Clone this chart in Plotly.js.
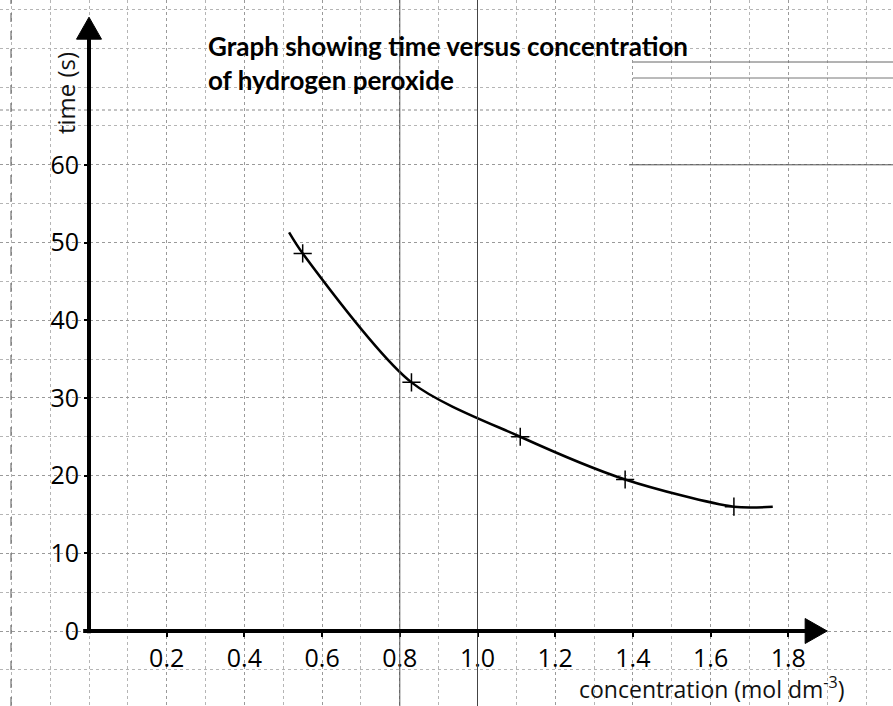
<!DOCTYPE html>
<html>
<head>
<meta charset="utf-8">
<script src="https://cdn.plot.ly/plotly-3.0.1.min.js"></script>
<style>html,body{margin:0;padding:0;background:#fff;}#chart{width:893px;height:706px;}</style>
</head>
<body>
<div id="chart"></div>
<script>
// Measured data points (crosses)
const concentration = [0.55, 0.83, 1.11, 1.38, 1.66];
const timeSeconds = [48.6, 32.0, 25.0, 19.5, 16.0];
// Hand-drawn best-fit curve: start, through points, end
const curveX = [0.515, 0.55, 0.83, 1.11, 1.38, 1.66, 1.76];
const curveY = [51.3, 48.6, 32.0, 25.0, 19.5, 16.0, 16.0];
// Tick labels
const xTickVals = [0.2, 0.4, 0.6, 0.8, 1.0, 1.2, 1.4, 1.6, 1.8];
const xTickText = ['0.2', '0.4', '0.6', '0.8', '1.0', '1.2', '1.4', '1.6', '1.8'];
const yTickVals = [0, 10, 20, 30, 40, 50, 60];
const yTickText = ['0', '10', '20', '30', '40', '50', '60'];

const W = 893, H = 706;
const ox = 89, oy = 631;       // origin in pixels
const pxX = 388.5, pxY = 7.77; // pixels per unit
const xr = [-ox / pxX, (W - ox) / pxX];
const yr = [-(H - oy) / pxY, oy / pxY];
const xEnd = 1.9, yEnd = 79;   // arrow tips of the drawn axes

const traces = [
  {x: curveX, y: curveY, mode: 'lines', line: {color: '#000', width: 2.5, shape: 'spline', smoothing: 0.8}, hoverinfo: 'skip', showlegend: false},
  {x: concentration, y: timeSeconds, mode: 'markers', marker: {symbol: 'cross-thin', size: 13, line: {color: '#000', width: 1.5}}, showlegend: false}
];

const tickFont = {family: 'Open Sans, Noto Sans, sans-serif', size: 25, color: '#000'};
const labelFont = {family: 'Open Sans, Noto Sans, sans-serif', size: 23, color: '#111'};

const layout = {
  width: W, height: H,
  margin: {l: 0, r: 0, t: 0, b: 0},
  paper_bgcolor: '#fff', plot_bgcolor: '#fff',
  showlegend: false,
  title: {
    text: '<b>Graph showing time versus concentration<br>of hydrogen peroxide</b>',
    x: 208 / W, xanchor: 'left', xref: 'paper',
    y: 1 - 56 / H, yanchor: 'top', yref: 'container',
    font: {family: 'Lato, Open Sans, sans-serif', size: 26, color: '#000'}
  },
  xaxis: {
    range: xr, anchor: 'free', position: (H - oy) / H,
    tickvals: xTickVals, ticktext: xTickText,
    ticks: 'outside', ticklen: 5, tickwidth: 2, tickcolor: '#000',
    tickfont: tickFont, showline: false, zeroline: false,
    showgrid: true, gridcolor: '#9a9a9a', griddash: 'dot', gridwidth: 1,
    minor: {dtick: 0.1, showgrid: true, gridcolor: '#b5b5b5', griddash: 'dot', gridwidth: 1, ticks: ''},
    fixedrange: true
  },
  yaxis: {
    range: yr, anchor: 'free', position: ox / W,
    tickvals: yTickVals, ticktext: yTickText,
    ticks: 'outside', ticklen: 5, tickwidth: 2, tickcolor: '#000',
    tickfont: tickFont, showline: false, zeroline: false,
    showgrid: true, gridcolor: '#9a9a9a', griddash: 'dot', gridwidth: 1,
    minor: {dtick: 5, showgrid: true, gridcolor: '#b5b5b5', griddash: 'dot', gridwidth: 1, ticks: ''},
    fixedrange: true
  },
  shapes: [
    {type: 'line', xref: 'x', yref: 'paper', x0: 0.8, x1: 0.8, y0: 0, y1: 1, line: {color: '#555', width: 1}},
    {type: 'line', xref: 'x', yref: 'paper', x0: 1.0, x1: 1.0, y0: 0, y1: 1, line: {color: '#444', width: 1}},
    {type: 'line', xref: 'paper', yref: 'paper', x0: 11 / W, x1: 11 / W, y0: 0, y1: 1, line: {color: '#555', width: 1, dash: 'dash'}},
    {type: 'line', xref: 'x', yref: 'y', x0: 1.39, x1: xr[1], y0: 60, y1: 60, line: {color: '#555', width: 1}},
    {type: 'line', xref: 'x', yref: 'paper', x0: 1.40, x1: xr[1], y0: 1 - 62 / H, y1: 1 - 62 / H, line: {color: '#666', width: 1}},
    {type: 'line', xref: 'x', yref: 'paper', x0: 1.40, x1: xr[1], y0: 1 - 78 / H, y1: 1 - 78 / H, line: {color: '#777', width: 1}},
    {type: 'line', xref: 'paper', yref: 'paper', x0: 0, x1: 1, y0: 1 - 110 / H, y1: 1 - 110 / H, line: {color: '#888', width: 1, dash: 'dot'}},
    // drawn axes
    {type: 'line', xref: 'x', yref: 'y', x0: -0.015, x1: xEnd - 0.04, y0: 0, y1: 0, line: {color: '#000', width: 4}},
    {type: 'line', xref: 'x', yref: 'y', x0: 0, x1: 0, y0: -0.3, y1: yEnd - 2, line: {color: '#000', width: 4}},
    // arrow heads (pixel-sized, anchored at the tips)
    {type: 'path', xref: 'x', yref: 'y', xsizemode: 'pixel', ysizemode: 'pixel', xanchor: xEnd, yanchor: 0,
     path: 'M-22,-12.5 L0,0 L-22,12.5 Z', fillcolor: '#000', line: {color: '#000', width: 1}},
    {type: 'path', xref: 'x', yref: 'y', xsizemode: 'pixel', ysizemode: 'pixel', xanchor: 0, yanchor: yEnd,
     path: 'M-12.5,-22 L0,0 L12.5,-22 Z', fillcolor: '#000', line: {color: '#000', width: 1}}
  ],
  annotations: [
    {x: 66 / W, y: 1 - 93 / H, xref: 'paper', yref: 'paper', text: 'time (s)', textangle: -90, showarrow: false, xanchor: 'center', yanchor: 'middle',
     font: {family: 'Open Sans, Noto Sans, sans-serif', size: 24, color: '#111'}},
    {x: 712 / W, y: 0, xref: 'paper', yref: 'paper', text: 'concentration (mol dm<sup>-3</sup>)', showarrow: false, xanchor: 'center', yanchor: 'bottom', borderpad: 0,
     font: labelFont}
  ]
};

Plotly.newPlot('chart', traces, layout, {displayModeBar: false, staticPlot: true});
</script>
</body>
</html>
